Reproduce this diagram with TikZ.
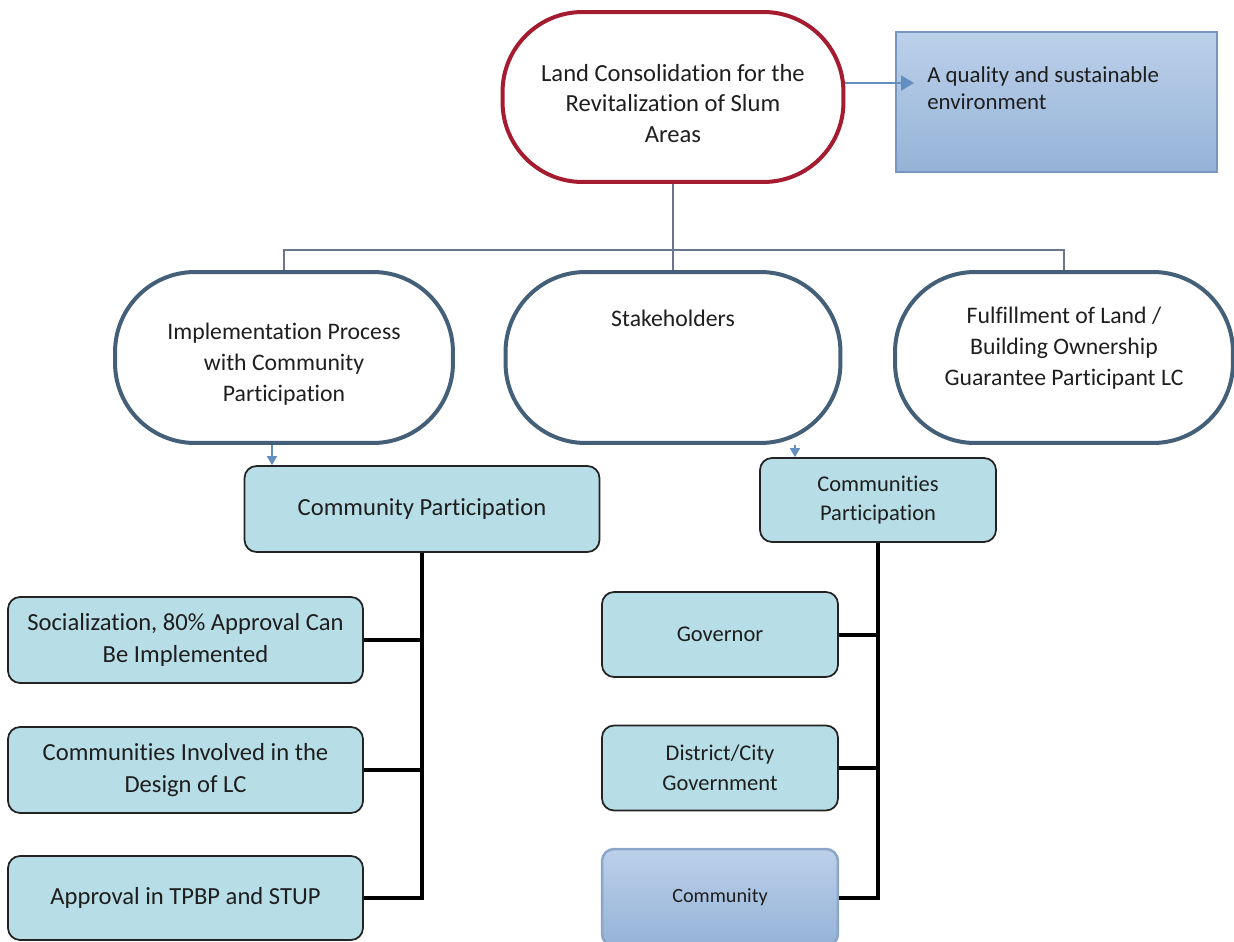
\documentclass[tikz,border=0pt]{standalone}
\usepackage{fontspec}
\setmainfont{Carlito}[Ligatures=NoCommon]
\usetikzlibrary{arrows.meta}

\definecolor{slumred}{RGB}{165,28,48}
\definecolor{ovalline}{RGB}{67,96,120}
\definecolor{aquafill}{RGB}{183,222,230}
\definecolor{boxline}{RGB}{35,35,35}
\definecolor{bluetop}{RGB}{188,208,234}
\definecolor{bluebot}{RGB}{149,179,215}
\definecolor{blueline}{RGB}{120,150,192}
\definecolor{linkgray}{RGB}{105,118,142}
\definecolor{tipblue}{RGB}{98,142,192}
\definecolor{ink}{RGB}{30,30,30}

\tikzset{
  oval/.style={draw=ovalline, line width=0.08cm, rounded corners=1.6cm,
    minimum width=6.76cm, minimum height=3.42cm, inner sep=0pt},
  lcoval/.style={oval, draw=slumred, minimum width=6.82cm, minimum height=3.4cm},
  ovaltext/.style={align=center, inner sep=0pt, text=ink, font=\fontsize{13.5}{17.6}\selectfont},
  aquabox/.style={draw=boxline, line width=0.035cm, fill=aquafill, rounded corners=0.24cm,
    inner sep=0pt, align=center, text=ink},
  bigbox/.style={aquabox, minimum width=7.1cm, minimum height=1.72cm, font=\fontsize{14}{18}\selectfont},
  smallbox/.style={aquabox, minimum width=4.72cm, minimum height=1.7cm, font=\fontsize{12.8}{16.8}\selectfont},
  bluebox/.style={draw=blueline, line width=0.05cm, top color=bluetop, bottom color=bluebot},
  link/.style={draw=linkgray, line width=0.03cm},
  trunk/.style={draw=black, line width=0.08cm},
  tiparrow/.style={draw=tipblue, line width=0.04cm, -{Triangle[length=0.26cm,width=0.3cm]}},
  smalltip/.style={draw=tipblue, line width=0.03cm, -{Triangle[length=0.18cm,width=0.2cm]}},
}

\begin{document}
\begin{tikzpicture}[x=0.02cm, y=-0.02cm]
		%%%%% START %%%%%
		\useasboundingbox (0,0) rectangle (1234,942);

		% top of the tree
		\node[lcoval] (lc) at (673,97) {};
		\node[ovaltext, font=\fontsize{14}{17.4}\selectfont] (lctext) at (673,103.5)
			{Land Consolidation for the\\Revitalization of Slum\\Areas};

		\node[bluebox, minimum width=6.42cm, minimum height=2.8cm] (env) at (1056.5,102) {};
		\node[anchor=west, align=left, inner sep=0pt, text=ink, font=\fontsize{13}{15.4}\selectfont]
			(envtext) at (927,88.5) {A quality and sustainable\\environment};
		\coordinate (envtip) at (914,83);
		\draw[tiparrow] (lc.east |- envtip) -- (envtip);

		% the three ovals
		\node[oval] (impl) at (284,357.5) {};
		\node[oval, minimum width=6.7cm] (stake) at (673,357.5) {};
		\node[oval] (fulfil) at (1064,357.5) {};
		\node[ovaltext] (impltext) at (284,364) {Implementation Process\\with Community\\Participation};
		\node[ovaltext] (staketext) at (673,318) {Stakeholders};
		\node[ovaltext] (fulfiltext) at (1064,348) {Fulfillment of Land /\\Building Ownership\\Guarantee Participant LC};

		\coordinate (hub) at (673,250);
		\draw[link] (lc.south) -- (hub);
		\draw[link] (hub) -| (impl.north);
		\draw[link] (hub) -- (stake.north);
		\draw[link] (hub) -| (fulfil.north);

		% left branch
		\node[bigbox] (cp) at (422,509) {Community Participation};
		\node[bigbox] (soc) at (185.5,640) {Socialization, 80\% Approval Can\\Be Implemented};
		\node[bigbox] (inv) at (185.5,770) {Communities Involved in the\\Design of LC};
		\node[bigbox, minimum height=1.68cm] (app) at (185.5,898) {Approval in TPBP and STUP};

		\draw[smalltip] ([xshift=-0.24cm]impl.south) -- ([xshift=-0.24cm]impl.south |- cp.north);
		\draw[trunk] (cp.south) |- (app.east);
		\draw[trunk] (soc.east) -- (soc.east -| cp.south);
		\draw[trunk] (inv.east) -- (inv.east -| cp.south);

		% right branch
		\node[smallbox, minimum height=1.68cm] (cpart) at (878,500) {Communities\\Participation};
		\node[smallbox] (gov) at (720,634.5) {Governor};
		\node[smallbox] (dist) at (720,768) {District/City\\Government};
		\node[smallbox, bluebox, draw=blueline!85, text=ink, minimum height=1.94cm,
			font=\fontsize{11.5}{14}\selectfont] (comm) at (720,897.5) {Community};

		\draw[smalltip] ([xshift=2.44cm]stake.south) -- ([xshift=2.44cm]stake.south |- cpart.north);
		\draw[trunk] (cpart.south) |- (comm.east);
		\draw[trunk] (gov.east) -- (gov.east -| cpart.south);
		\draw[trunk] (dist.east) -- (dist.east -| cpart.south);
		%%%%% END %%%%%
\end{tikzpicture}
\end{document}
